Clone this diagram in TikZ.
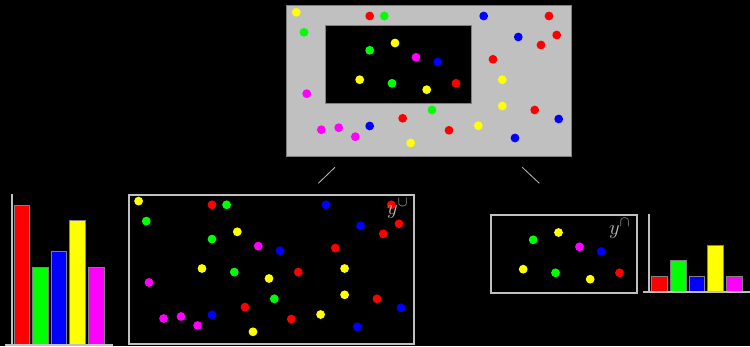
\documentclass[tikz,border=0pt]{standalone}
\definecolor{fr}{HTML}{C0C0C0}
\definecolor{bd}{HTML}{808080}
\definecolor{lbl}{HTML}{B8B8B8}
\definecolor{dred}{RGB}{255,0,0}
\definecolor{dgreen}{RGB}{0,255,0}
\definecolor{dblue}{RGB}{0,0,255}
\definecolor{dyellow}{RGB}{255,255,0}
\definecolor{dmagenta}{RGB}{255,0,255}
\tikzset{
  frame/.style={draw=fr, line width=2pt},
  axis/.style={draw=fr, line width=1.8pt},
  bar/.style={fill=#1, draw=bd, line width=0.7pt},
  link/.style={draw=fr, line width=0.8pt},
  setlabel/.style={text=lbl, inner sep=0pt, anchor=base west, font=\fontsize{21}{25}\selectfont},
}
\def\outerdots{296.3/12.3/dyellow, 369.7/16/dred, 384.3/16/dgreen, 483.7/16/dblue, 549/16/dred, 304/32.3/dgreen, 518.3/37/dblue, 556.7/35/dred, 541/45/dred, 493/59.3/dred, 502.3/79.7/dyellow, 306.7/93.7/dmagenta, 432/110/dgreen, 502.3/106/dyellow, 534.7/110/dred, 402.7/118.3/dred, 558.7/119/dblue, 321.3/129.7/dmagenta, 338.7/127.7/dmagenta, 369.7/126/dblue, 355.3/136.7/dmagenta, 449/130.3/dred, 478.3/125.7/dyellow, 515/138/dblue, 410.7/143/dyellow}
\def\innerdots{369.7/50.3/dgreen, 395/43/dyellow, 416/57.3/dmagenta, 437.7/62/dblue, 359.7/79.7/dyellow, 392/83.3/dgreen, 426.7/89.7/dyellow, 456/83.3/dred}
\begin{document}
\begin{tikzpicture}[x=1pt,y=-1pt]
\fill[black] (0,0) rectangle (750,346);
\useasboundingbox (0,0) rectangle (750,346);
% top box
\draw[fill=fr, draw=bd, line width=1pt] (286.5,5.5) rectangle (571,156);
\draw[fill=black, draw=bd, line width=1pt] (325.7,25.7) rectangle (471.7,103.3);
\foreach \x/\y/\c in \outerdots { \fill[fill=\c] (\x,\y) circle[radius=4.4]; }
\foreach \x/\y/\c in \innerdots { \fill[fill=\c] (\x,\y) circle[radius=4.4]; }
% union box
\begin{scope}[shift={(-157.7,188.8)}]
  \foreach \x/\y/\c in \outerdots { \fill[fill=\c] (\x,\y) circle[radius=4.4]; }
  \foreach \x/\y/\c in \innerdots { \fill[fill=\c] (\x,\y) circle[radius=4.4]; }
\end{scope}
\draw[frame] (129.3,195.1) rectangle (414.3,344.3);
\node[setlabel] (ylabu) at (387,214) {$y^{\cup}$};
% intersection box
\begin{scope}[shift={(163.5,189.5)}]
  \foreach \x/\y/\c in \innerdots { \fill[fill=\c] (\x,\y) circle[radius=4.4]; }
\end{scope}
\draw[frame] (490.7,214.7) rectangle (636.7,292.7);
\node[setlabel] (ylabi) at (609,234) {$y^{\cap}$};
% connectors
\coordinate (l1) at (318.3,183.3); \coordinate (l2) at (335,167.3);
\coordinate (r1) at (522.3,167.3); \coordinate (r2) at (539.3,183.3);
\draw[link] (l1) -- (l2);
\draw[link] (r1) -- (r2);
% left histogram
\foreach \i/\h/\c in {0/9/dred, 1/5/dgreen, 2/6/dblue, 3/8/dyellow, 4/5/dmagenta} {
  \draw[bar=\c] (14+18.6*\i,344.5) rectangle (29.5+18.6*\i,344.5-15.5*\h);
}
\draw[axis] (12,194) -- (12,345.5);
\draw[axis] (5,345.2) -- (113.3,345.2);
% right histogram
\foreach \i/\h/\c in {0/1/dred, 1/2/dgreen, 2/1/dblue, 3/3/dyellow, 4/1/dmagenta} {
  \draw[bar=\c] (651.7+18.65*\i,291.3) rectangle (667.3+18.65*\i,291.3-15.3*\h);
}
\draw[axis] (649,214) -- (649,292.3);
\draw[axis] (643.3,292.2) -- (750,292.2);
\end{tikzpicture}
\end{document}
